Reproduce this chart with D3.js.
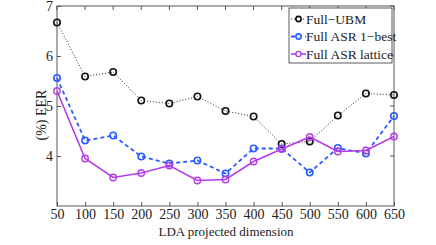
<!DOCTYPE html>
<html>
<head>
<meta charset="utf-8">
<script src="https://cdn.jsdelivr.net/npm/d3@7"></script>
<style>
  body { margin: 0; background: #fff; }
</style>
</head>
<body>
<svg id="chart" width="436" height="245"></svg>
<script>
// valeurs
const dims = [50, 100, 150, 200, 250, 300, 350, 400, 450, 500, 550, 600, 650];
const fullUbm = [6.67, 5.59, 5.68, 5.11, 5.05, 5.19, 4.90, 4.79, 4.24, 4.29, 4.81, 5.25, 5.22];
const asr1best = [5.56, 4.31, 4.41, 3.99, 3.85, 3.91, 3.65, 4.15, 4.15, 3.67, 4.16, 4.05, 4.80];
const asrLattice = [5.30, 3.95, 3.57, 3.66, 3.81, 3.51, 3.53, 3.89, 4.14, 4.38, 4.09, 4.11, 4.39];
const yTicks = [4, 5, 6, 7];
const seriesNames = ["Full\u2212UBM", "Full ASR 1\u2212best", "Full ASR lattice"];

const FONT = "'Liberation Serif', 'DejaVu Serif', serif";
const svg = d3.select("#chart");
const mLeft = 57, mRight = 394, mTop = 6, mBottom = 206;

const x = d3.scaleLinear().domain([50, 650]).range([mLeft, mRight]);
const y = d3.scaleLinear().domain([3, 7]).range([mBottom, mTop]);

const series = [
  { name: seriesNames[0], values: fullUbm, color: "#111", dash: "1,2", width: 0.9, ms: 1.6 },
  { name: seriesNames[1], values: asr1best, color: "#2a5cff", dash: "4,3", width: 1.8, ms: 1.6 },
  { name: seriesNames[2], values: asrLattice, color: "#b43ce8", dash: null, width: 1.6, ms: 1.4 }
];

// cadre + graduations vers l'intérieur
const axisColor = "#555";
svg.append("rect")
  .attr("x", mLeft).attr("y", mTop)
  .attr("width", mRight - mLeft).attr("height", mBottom - mTop)
  .attr("fill", "none").attr("stroke", axisColor).attr("stroke-width", 1);

const xAxis = svg.append("g").attr("transform", `translate(0,${mBottom})`)
  .call(d3.axisBottom(x).tickValues(dims).tickSize(-4).tickPadding(3).tickFormat(d3.format("d")));
const yAxis = svg.append("g").attr("transform", `translate(${mLeft},0)`)
  .call(d3.axisLeft(y).tickValues(yTicks).tickSize(-4).tickPadding(4).tickFormat(d3.format("d")));
[xAxis, yAxis].forEach(a => {
  a.attr("font-family", FONT).attr("font-size", 14);
  a.select(".domain").remove();
  a.selectAll(".tick line").attr("stroke", axisColor);
  a.selectAll(".tick text").attr("fill", "#222");
});
// graduations en haut et à droite
svg.append("g").selectAll("line").data(dims).enter().append("line")
  .attr("x1", d => x(d)).attr("x2", d => x(d)).attr("y1", mTop).attr("y2", mTop + 4)
  .attr("stroke", axisColor);
svg.append("g").selectAll("line").data(yTicks).enter().append("line")
  .attr("x1", mRight).attr("x2", mRight - 4).attr("y1", d => y(d)).attr("y2", d => y(d))
  .attr("stroke", axisColor);

svg.append("text")
  .attr("x", 226).attr("y", 236)
  .attr("text-anchor", "middle")
  .attr("font-family", FONT).attr("font-size", 13).attr("fill", "#222")
  .text("LDA projected dimension");
svg.append("text")
  .attr("transform", `translate(46,${(mTop + mBottom) / 2 + 9}) rotate(-90)`)
  .attr("text-anchor", "middle")
  .attr("font-family", FONT).attr("font-size", 14).attr("fill", "#222")
  .text("(%) EER");

const line = d3.line().x((d, i) => x(dims[i])).y(d => y(d));

series.forEach(s => {
  svg.append("path")
    .datum(s.values)
    .attr("d", line)
    .attr("fill", "none")
    .attr("stroke", s.color)
    .attr("stroke-width", s.width)
    .attr("stroke-dasharray", s.dash);
  svg.append("g").selectAll("circle")
    .data(s.values).enter().append("circle")
    .attr("cx", (d, i) => x(dims[i])).attr("cy", d => y(d))
    .attr("r", 3.2)
    .attr("fill", "none")
    .attr("stroke", s.color)
    .attr("stroke-width", s.ms);
});

// légende
const lg = svg.append("g");
lg.append("rect")
  .attr("x", 289).attr("y", 8).attr("width", 103).attr("height", 55)
  .attr("fill", "#fff").attr("stroke", "#333").attr("stroke-width", 0.8);
series.forEach((s, i) => {
  const yy = 19 + i * 17.5;
  lg.append("line")
    .attr("x1", 291).attr("x2", 306).attr("y1", yy).attr("y2", yy)
    .attr("stroke", s.color).attr("stroke-width", s.width)
    .attr("stroke-dasharray", s.dash);
  lg.append("circle")
    .attr("cx", 298.5).attr("cy", yy).attr("r", 2.6)
    .attr("fill", "#fff").attr("stroke", s.color).attr("stroke-width", s.ms);
  lg.append("text")
    .attr("x", 306).attr("y", yy + 4.5)
    .attr("font-family", FONT).attr("font-size", 13.5).attr("fill", "#222")
    .text(s.name);
});
</script>
</body>
</html>
